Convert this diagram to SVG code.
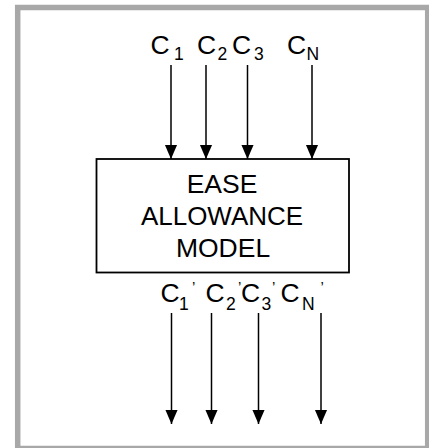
<svg xmlns="http://www.w3.org/2000/svg" width="429" height="448" viewBox="0 0 429 448">
<defs>
<marker id="ah" markerUnits="userSpaceOnUse" markerWidth="14" markerHeight="16" refX="15" refY="6.5" orient="auto" viewBox="0 0 15 13">
<path d="M0,0 L15,6.5 L0,13 Z" fill="#000"/>
</marker>
<style>
.lbl{font-family:"Liberation Sans",Arial,sans-serif;font-size:26.5px;fill:#000}
.sub{font-size:17.5px}
.pr{font-size:15px}
.box{font-family:"Liberation Sans",Arial,sans-serif;font-size:26.5px;fill:#000;text-anchor:middle}
.conn{stroke:#000;stroke-width:1.5;fill:none;marker-end:url(#ah)}
</style>
</defs>
<rect x="17.7" y="7.5" width="410" height="441" fill="#fff" stroke="#a8a8a8" stroke-width="5.5"/>
<g id="inputs">
<text class="lbl" y="53.5"><tspan x="150.5">C</tspan><tspan class="sub" x="174" y="60">1</tspan></text>
<text class="lbl" y="53.5"><tspan x="197">C</tspan><tspan class="sub" x="217.5" y="60">2</tspan></text>
<text class="lbl" y="53.5"><tspan x="232">C</tspan><tspan class="sub" x="254" y="60">3</tspan></text>
<text class="lbl" y="53.5"><tspan x="287">C</tspan><tspan class="sub" x="306.5" y="60">N</tspan></text>
</g>
<g id="model">
<rect x="96.5" y="159" width="252.5" height="113.5" fill="#fff" stroke="#000" stroke-width="1.8"/>
<text class="box" x="222" y="193">EASE</text>
<text class="box" x="222" y="225" textLength="162" lengthAdjust="spacingAndGlyphs">ALLOWANCE</text>
<text class="box" x="223" y="256.5">MODEL</text>
</g>
<g id="outputs">
<text class="lbl" y="302"><tspan x="160.5">C</tspan><tspan class="sub" x="179" y="310">1</tspan><tspan class="pr" x="192" y="292">’</tspan></text>
<text class="lbl" y="302"><tspan x="205.5">C</tspan><tspan class="sub" x="226" y="310">2</tspan><tspan class="pr" x="238" y="292">’</tspan></text>
<text class="lbl" y="302"><tspan x="241">C</tspan><tspan class="sub" x="261.5" y="310">3</tspan><tspan class="pr" x="272" y="292">’</tspan></text>
<text class="lbl" y="302"><tspan x="280.5">C</tspan><tspan class="sub" x="302" y="310">N</tspan><tspan class="pr" x="320.5" y="292">’</tspan></text>
</g>
<g id="connectors">
<line class="conn" x1="171" y1="65" x2="171" y2="159"/>
<line class="conn" x1="206" y1="65" x2="206" y2="159"/>
<line class="conn" x1="247.5" y1="65" x2="247.5" y2="159"/>
<line class="conn" x1="312" y1="65" x2="312" y2="159"/>
<line class="conn" x1="171.5" y1="313" x2="171.5" y2="424"/>
<line class="conn" x1="211.5" y1="313" x2="211.5" y2="424"/>
<line class="conn" x1="258.5" y1="313" x2="258.5" y2="424"/>
<line class="conn" x1="321" y1="313" x2="321" y2="424"/>
</g>
</svg>
